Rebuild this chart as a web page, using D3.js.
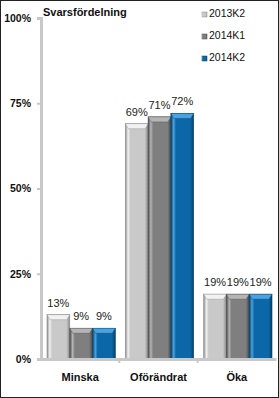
<!DOCTYPE html>
<html>
<head>
<meta charset="utf-8">
<script src="https://cdn.jsdelivr.net/npm/d3@7"></script>
<style>
  body { margin: 0; background: #fff; }
  svg { display: block; font-family: "Liberation Sans", Arial, sans-serif; }
</style>
</head>
<body>
<svg id="chart"></svg>
<script>
// data
var categories = ["Minska", "Oförändrat", "Öka"];
var seriesNames = ["2013K2", "2014K1", "2014K2"];
var v2013K2 = [13, 69, 19];
var v2014K1 = [9, 71, 19];
var v2014K2 = [9, 72, 19];
var yTicks = [0, 25, 50, 75, 100];

var W = 279, H = 398;
var colors = ["#c9c9c9", "#7f7f7f", "#0b67a8"];
var dark = ["#8a8a8a", "#4a4a4a", "#053f68"];
var light = ["#f2f2f2", "#b5b5b5", "#4aa3e0"];

var svg = d3.select("#chart").attr("width", W).attr("height", H);

// outer frame
svg.append("rect").attr("x", 0.5).attr("y", 0.5).attr("width", W - 1).attr("height", H - 1)
  .attr("fill", "#fff").attr("stroke", "#222");

var margin = {left: 41, right: 3, top: 18, bottom: 39};
var plotW = W - margin.left - margin.right, plotH = H - margin.top - margin.bottom;

var x = d3.scaleBand().domain(categories).range([0, plotW]).paddingInner(0).paddingOuter(0);
var xs = d3.scaleBand().domain(seriesNames).range([6, x.bandwidth() - 4]).padding(0);
var y = d3.scaleLinear().domain([0, 100]).range([plotH, 0]);

var defs = svg.append("defs");
seriesNames.forEach(function(s, i) {
  var g = defs.append("linearGradient").attr("id", "g" + i).attr("x1", 0).attr("x2", 1).attr("y1", 0).attr("y2", 0);
  g.append("stop").attr("offset", "0").attr("stop-color", dark[i]);
  g.append("stop").attr("offset", "0.12").attr("stop-color", light[i]);
  g.append("stop").attr("offset", "0.22").attr("stop-color", colors[i]);
  g.append("stop").attr("offset", "0.85").attr("stop-color", colors[i]);
  g.append("stop").attr("offset", "1").attr("stop-color", dark[i]);
});

var plot = svg.append("g").attr("transform", "translate(" + margin.left + "," + margin.top + ")");

var rows = categories.map(function(c, k) {
  return {cat: c, vals: [v2013K2[k], v2014K1[k], v2014K2[k]]};
});

var groups = plot.selectAll("g.cat").data(rows).enter().append("g")
  .attr("transform", function(d) { return "translate(" + x(d.cat) + ",0)"; });

var bars = groups.selectAll("g.bar").data(function(d) {
  return d.vals.map(function(v, i) { return {s: seriesNames[i], v: v, i: i}; });
}).enter().append("g");

bars.append("rect")
  .attr("x", function(d) { return xs(d.s); })
  .attr("y", function(d) { return y(d.v); })
  .attr("width", xs.bandwidth())
  .attr("height", function(d) { return y(0) - y(d.v); })
  .attr("fill", function(d) { return "url(#g" + d.i + ")"; })
  .attr("stroke", function(d) { return dark[d.i]; })
  .attr("stroke-width", 0.6);

// top bevel cap
bars.append("path")
  .attr("d", function(d) {
    var x0 = xs(d.s), w = xs.bandwidth(), t = y(d.v);
    return "M" + x0 + "," + t + "L" + (x0 + w) + "," + t + "L" + (x0 + w - 3) + "," + (t + 5) + "L" + (x0 + 3) + "," + (t + 5) + "Z";
  })
  .attr("fill", function(d) { return light[d.i]; })
  .attr("stroke", function(d) { return dark[d.i]; })
  .attr("stroke-width", 0.4);

bars.append("text")
  .attr("x", function(d) { return xs(d.s) + xs.bandwidth() / 2; })
  .attr("y", function(d) { return y(d.v) - 8; })
  .attr("text-anchor", "middle")
  .attr("font-size", 11)
  .attr("fill", "#222")
  .text(function(d) { return d.v + "%"; });

// axes
var yAxis = plot.append("g").call(d3.axisLeft(y).tickValues(yTicks).tickSize(4).tickFormat(function(d) { return d + "%"; }));
yAxis.select(".domain").attr("stroke", "#c8c8c8").attr("stroke-width", 3);
yAxis.selectAll(".tick line").attr("stroke", "#c8c8c8").attr("stroke-width", 2);
yAxis.selectAll("text").attr("font-size", 10.5).attr("font-weight", "bold").attr("fill", "#111")
  .attr("font-family", "Liberation Sans, Arial, sans-serif").attr("x", -10);

var xAxis = plot.append("g").attr("transform", "translate(0," + plotH + ")")
  .call(d3.axisBottom(x).tickSize(0).tickPadding(14));
xAxis.select(".domain").attr("stroke", "#c8c8c8").attr("stroke-width", 3);
xAxis.selectAll("text").attr("font-size", 11).attr("font-weight", "bold").attr("fill", "#111")
  .attr("font-family", "Liberation Sans, Arial, sans-serif");
// category separators
xAxis.selectAll("line.sep").data(categories.slice(1)).enter().append("line")
  .attr("x1", function(c) { return x(c); }).attr("x2", function(c) { return x(c); })
  .attr("y1", 0).attr("y2", 4).attr("stroke", "#c8c8c8").attr("stroke-width", 2);

// title
svg.append("text").attr("x", 43).attr("y", 16).attr("font-size", 11).attr("font-weight", "bold")
  .attr("fill", "#111").text("Svarsfördelning");

// legend
var leg = svg.append("g").attr("transform", "translate(202,8)");
var li = leg.selectAll("g").data(seriesNames).enter().append("g")
  .attr("transform", function(d, i) { return "translate(0," + i * 22 + ")"; });
li.append("rect").attr("width", 5).attr("height", 5).attr("y", 4)
  .attr("fill", function(d, i) { return "url(#g" + i + ")"; })
  .attr("stroke", function(d, i) { return dark[i]; }).attr("stroke-width", 0.5);
li.append("text").attr("x", 7).attr("y", 9).attr("font-size", 10.5).attr("fill", "#111").text(function(d) { return d; });
</script>
</body>
</html>
